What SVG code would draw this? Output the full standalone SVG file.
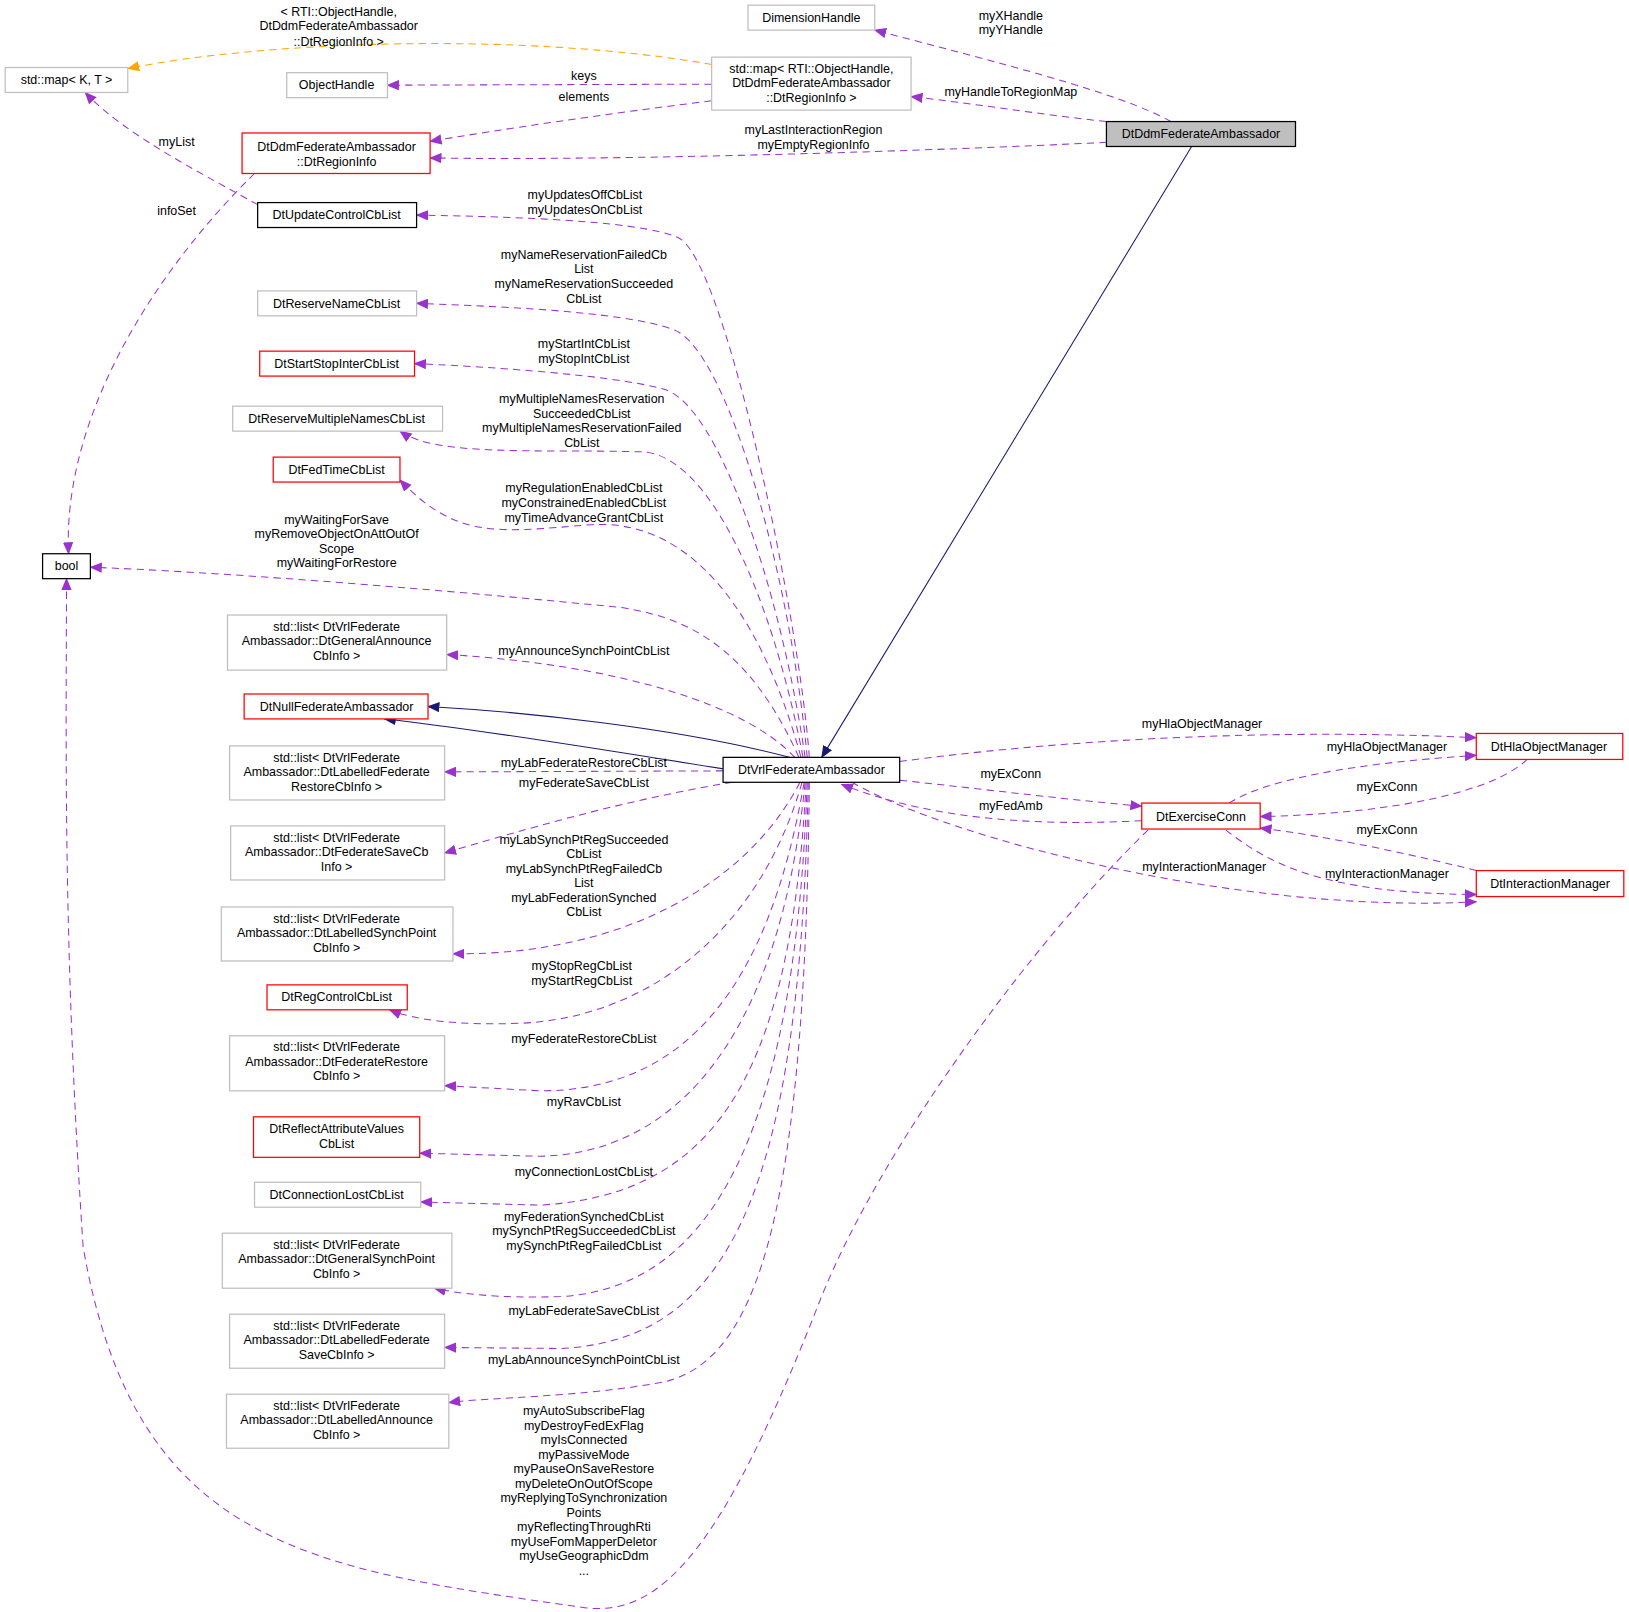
<svg xmlns="http://www.w3.org/2000/svg" width="1629" height="1612" viewBox="0 0 1629 1612">
<style>
text{font-family:"Liberation Sans",Arial,sans-serif;font-size:12px;fill:#000;text-anchor:middle}
.n rect{fill:#fff;stroke-width:1.2}
.g rect{stroke:#bfbfbf}.r rect{stroke:#ff0000}.k rect{stroke:#000}
.e{fill:none;stroke:#9a32cd;stroke-dasharray:7,5;marker-end:url(#ap)}
.i{fill:none;stroke:#191970;marker-end:url(#an)}
.o{fill:none;stroke:#ffa500;stroke-dasharray:7,5;marker-end:url(#ao)}
</style>
<defs>
<marker id="ap" markerWidth="12" markerHeight="10" refX="11" refY="5" orient="auto" markerUnits="userSpaceOnUse"><path d="M0,0L12,5L0,10z" fill="#9a32cd"/></marker>
<marker id="an" markerWidth="12" markerHeight="10" refX="11" refY="5" orient="auto" markerUnits="userSpaceOnUse"><path d="M0,0L12,5L0,10z" fill="#191970"/></marker>
<marker id="ao" markerWidth="12" markerHeight="10" refX="11" refY="5" orient="auto" markerUnits="userSpaceOnUse"><path d="M0,0L12,5L0,10z" fill="#ffa500"/></marker>
</defs>
<rect width="1629" height="1612" fill="#fff"/>
<g transform="scale(1.0389)">
<g id="edges">
<path class="i" d="M1147,141 L791,729"/>
<path class="e" d="M1127,117 C1080,90 960,60 842,29"/>
<path class="e" d="M1065,117 C1000,110 940,100 877,93"/>
<path class="e" d="M1065,137 C900,145 600,155 414,152"/>
<path class="o" d="M685,62 C500,30 250,40 123,66"/>
<path class="e" d="M685,81 L373,82"/>
<path class="e" d="M685,97 C580,110 480,125 414,136"/>
<path class="e" d="M248,197 C200,170 120,130 82,89"/>
<path class="e" d="M245,167 C150,260 60,400 66,533"/>
<path class="e" d="M779,729 C770,600 700,260 655,230 C620,210 450,208 401,207"/>
<path class="e" d="M777,729 C760,550 700,340 650,318 C600,298 450,294 401,292"/>
<path class="e" d="M775,729 C750,560 690,390 640,375 C590,360 450,352 399,350"/>
<path class="e" d="M773,729 C740,560 680,440 620,435 C520,432 420,440 385,415"/>
<path class="e" d="M771,729 C730,580 660,500 570,505 C480,512 440,520 385,462"/>
<path class="e" d="M769,729 C720,620 660,595 600,585 C400,565 200,550 87,546"/>
<path class="e" d="M765,729 C720,680 600,640 430,630"/>
<path class="i" d="M760,729 C650,700 500,685 412,680"/>
<path class="i" d="M696,740 C600,725 450,700 370,692"/>
<path class="e" d="M696,742 L428,743"/>
<path class="e" d="M705,753 C600,770 500,800 428,821"/>
<path class="e" d="M770,753 C720,850 600,920 436,918"/>
<path class="e" d="M772,753 C730,900 620,980 500,985 C440,987 400,982 375,972"/>
<path class="e" d="M774,753 C740,950 660,1050 520,1050 L428,1045"/>
<path class="e" d="M775,753 C750,1000 650,1110 520,1113 L404,1110"/>
<path class="e" d="M776,753 C760,1050 680,1150 520,1160 L405,1157"/>
<path class="e" d="M777,753 C765,1100 680,1240 540,1248 C480,1250 440,1245 418,1240"/>
<path class="e" d="M778,753 C770,1150 700,1290 540,1298 L428,1297"/>
<path class="e" d="M779,753 C775,1200 720,1310 640,1330 C560,1345 470,1345 432,1350"/>
<path class="e" d="M866,733 C1000,715 1200,700 1421,710"/>
<path class="e" d="M866,751 C950,760 1030,770 1099,776"/>
<path class="e" d="M1099,790 C1000,795 900,790 810,755"/>
<path class="e" d="M820,753 C920,810 1200,880 1421,868"/>
<path class="e" d="M1183,773 C1220,750 1300,735 1421,727"/>
<path class="e" d="M1470,731 C1440,760 1350,783 1213,786"/>
<path class="e" d="M1421,838 C1370,825 1280,805 1213,797"/>
<path class="e" d="M1180,799 C1220,830 1270,860 1421,861"/>
<path class="e" d="M1105,799 C1000,900 850,1100 790,1250 C700,1480 640,1560 560,1547 C300,1510 130,1490 80,1200 C60,900 64,700 64,557"/>
</g>
<g id="labels">
<text x="973" y="19">myXHandle</text><text x="973" y="33">myYHandle</text>
<text x="973" y="92">myHandleToRegionMap</text>
<text x="783" y="129">myLastInteractionRegion</text><text x="783" y="143">myEmptyRegionInfo</text>
<text x="326" y="15">&lt; RTI::ObjectHandle,</text><text x="326" y="29">DtDdmFederateAmbassador</text><text x="326" y="44">::DtRegionInfo &gt;</text>
<text x="562" y="77">keys</text><text x="562" y="97">elements</text>
<text x="170" y="141">myList</text><text x="170" y="207">infoSet</text>
<text x="563" y="192">myUpdatesOffCbList</text><text x="563" y="206">myUpdatesOnCbList</text>
<text x="562" y="249">myNameReservationFailedCb</text><text x="562" y="263">List</text><text x="562" y="277">myNameReservationSucceeded</text><text x="562" y="292">CbList</text>
<text x="562" y="335">myStartIntCbList</text><text x="562" y="349">myStopIntCbList</text>
<text x="560" y="388">myMultipleNamesReservation</text><text x="560" y="402">SucceededCbList</text><text x="560" y="416">myMultipleNamesReservationFailed</text><text x="560" y="430">CbList</text>
<text x="562" y="474">myRegulationEnabledCbList</text><text x="562" y="488">myConstrainedEnabledCbList</text><text x="562" y="502">myTimeAdvanceGrantCbList</text>
<text x="324" y="504">myWaitingForSave</text><text x="324" y="518">myRemoveObjectOnAttOutOf</text><text x="324" y="532">Scope</text><text x="324" y="546">myWaitingForRestore</text>
<text x="562" y="630">myAnnounceSynchPointCbList</text>
<text x="562" y="738">myLabFederateRestoreCbList</text>
<text x="562" y="758">myFederateSaveCbList</text>
<text x="562" y="812">myLabSynchPtRegSucceeded</text><text x="562" y="826">CbList</text><text x="562" y="840">myLabSynchPtRegFailedCb</text><text x="562" y="854">List</text><text x="562" y="868">myLabFederationSynched</text><text x="562" y="882">CbList</text>
<text x="560" y="934">myStopRegCbList</text><text x="560" y="948">myStartRegCbList</text>
<text x="562" y="1004">myFederateRestoreCbList</text>
<text x="562" y="1065">myRavCbList</text>
<text x="562" y="1132">myConnectionLostCbList</text>
<text x="562" y="1175">myFederationSynchedCbList</text><text x="562" y="1189">mySynchPtRegSucceededCbList</text><text x="562" y="1203">mySynchPtRegFailedCbList</text>
<text x="562" y="1266">myLabFederateSaveCbList</text>
<text x="562" y="1313">myLabAnnounceSynchPointCbList</text>
<text x="562" y="1362">myAutoSubscribeFlag</text><text x="562" y="1376">myDestroyFedExFlag</text><text x="562" y="1390">myIsConnected</text><text x="562" y="1404">myPassiveMode</text><text x="562" y="1418">myPauseOnSaveRestore</text><text x="562" y="1432">myDeleteOnOutOfScope</text><text x="562" y="1446">myReplyingToSynchronization</text><text x="562" y="1460">Points</text><text x="562" y="1474">myReflectingThroughRti</text><text x="562" y="1488">myUseFomMapperDeletor</text><text x="562" y="1502">myUseGeographicDdm</text><text x="562" y="1516">...</text>
<text x="1157" y="701">myHlaObjectManager</text>
<text x="973" y="749">myExConn</text><text x="973" y="780">myFedAmb</text>
<text x="1159" y="838">myInteractionManager</text>
<text x="1335" y="723">myHlaObjectManager</text>
<text x="1335" y="761">myExConn</text><text x="1335" y="803">myExConn</text>
<text x="1335" y="845">myInteractionManager</text>
</g>
<g id="DtDdmFederateAmbassador" class="n k"><rect x="1065" y="117" width="182" height="24" style="fill:#bfbfbf"/><text x="1156" y="133">DtDdmFederateAmbassador</text></g>
<g id="DimensionHandle" class="n g"><rect x="720" y="5" width="122" height="24"/><text x="781" y="21">DimensionHandle</text></g>
<g id="stdmapRTI" class="n g"><rect x="685" y="55" width="192" height="51"/><text x="781" y="70">std::map&lt; RTI::ObjectHandle,</text><text x="781" y="84">DtDdmFederateAmbassador</text><text x="781" y="98">::DtRegionInfo &gt;</text></g>
<g id="stdmapKT" class="n g"><rect x="5" y="65" width="118" height="24"/><text x="64" y="81">std::map&lt; K, T &gt;</text></g>
<g id="ObjectHandle" class="n g"><rect x="276" y="70" width="97" height="24"/><text x="324" y="86">ObjectHandle</text></g>
<g id="DtRegionInfo" class="n r"><rect x="233" y="128" width="181" height="39"/><text x="324" y="145">DtDdmFederateAmbassador</text><text x="324" y="160">::DtRegionInfo</text></g>
<g id="DtUpdateControlCbList" class="n k"><rect x="248" y="195" width="153" height="24"/><text x="324" y="211">DtUpdateControlCbList</text></g>
<g id="DtReserveNameCbList" class="n g"><rect x="248" y="280" width="153" height="24"/><text x="324" y="296">DtReserveNameCbList</text></g>
<g id="DtStartStopInterCbList" class="n r"><rect x="250" y="338" width="149" height="24"/><text x="324" y="354">DtStartStopInterCbList</text></g>
<g id="DtReserveMultipleNamesCbList" class="n g"><rect x="224" y="391" width="202" height="24"/><text x="324" y="407">DtReserveMultipleNamesCbList</text></g>
<g id="DtFedTimeCbList" class="n r"><rect x="263" y="440" width="122" height="24"/><text x="324" y="456">DtFedTimeCbList</text></g>
<g id="bool" class="n k"><rect x="41" y="533" width="46" height="24"/><text x="64" y="549">bool</text></g>
<g id="GeneralAnnounce" class="n g"><rect x="219" y="592" width="211" height="53"/><text x="324" y="607">std::list&lt; DtVrlFederate</text><text x="324" y="621">Ambassador::DtGeneralAnnounce</text><text x="324" y="635">CbInfo &gt;</text></g>
<g id="DtNullFederateAmbassador" class="n r"><rect x="235" y="668" width="177" height="24"/><text x="324" y="684">DtNullFederateAmbassador</text></g>
<g id="LabelledFederateRestore" class="n g"><rect x="221" y="718" width="207" height="52"/><text x="324" y="733">std::list&lt; DtVrlFederate</text><text x="324" y="747">Ambassador::DtLabelledFederate</text><text x="324" y="761">RestoreCbInfo &gt;</text></g>
<g id="FederateSaveCb" class="n g"><rect x="222" y="795" width="206" height="52"/><text x="324" y="810">std::list&lt; DtVrlFederate</text><text x="324" y="824">Ambassador::DtFederateSaveCb</text><text x="324" y="838">Info &gt;</text></g>
<g id="LabelledSynchPoint" class="n g"><rect x="213" y="873" width="223" height="52"/><text x="324" y="888">std::list&lt; DtVrlFederate</text><text x="324" y="902">Ambassador::DtLabelledSynchPoint</text><text x="324" y="916">CbInfo &gt;</text></g>
<g id="DtRegControlCbList" class="n r"><rect x="257" y="948" width="135" height="24"/><text x="324" y="964">DtRegControlCbList</text></g>
<g id="FederateRestore" class="n g"><rect x="221" y="997" width="207" height="53"/><text x="324" y="1012">std::list&lt; DtVrlFederate</text><text x="324" y="1026">Ambassador::DtFederateRestore</text><text x="324" y="1040">CbInfo &gt;</text></g>
<g id="DtReflectAttributeValuesCbList" class="n r"><rect x="244" y="1075" width="160" height="39"/><text x="324" y="1091">DtReflectAttributeValues</text><text x="324" y="1105">CbList</text></g>
<g id="DtConnectionLostCbList" class="n g"><rect x="245" y="1138" width="160" height="24"/><text x="324" y="1154">DtConnectionLostCbList</text></g>
<g id="GeneralSynchPoint" class="n g"><rect x="214" y="1187" width="221" height="53"/><text x="324" y="1202">std::list&lt; DtVrlFederate</text><text x="324" y="1216">Ambassador::DtGeneralSynchPoint</text><text x="324" y="1230">CbInfo &gt;</text></g>
<g id="LabelledFederateSave" class="n g"><rect x="221" y="1265" width="207" height="52"/><text x="324" y="1280">std::list&lt; DtVrlFederate</text><text x="324" y="1294">Ambassador::DtLabelledFederate</text><text x="324" y="1308">SaveCbInfo &gt;</text></g>
<g id="LabelledAnnounce" class="n g"><rect x="218" y="1342" width="214" height="52"/><text x="324" y="1357">std::list&lt; DtVrlFederate</text><text x="324" y="1371">Ambassador::DtLabelledAnnounce</text><text x="324" y="1385">CbInfo &gt;</text></g>
<g id="DtVrlFederateAmbassador" class="n k"><rect x="696" y="729" width="170" height="24"/><text x="781" y="745">DtVrlFederateAmbassador</text></g>
<g id="DtHlaObjectManager" class="n r"><rect x="1421" y="706" width="141" height="25"/><text x="1491" y="723">DtHlaObjectManager</text></g>
<g id="DtExerciseConn" class="n r"><rect x="1099" y="773" width="114" height="25"/><text x="1156" y="790">DtExerciseConn</text></g>
<g id="DtInteractionManager" class="n r"><rect x="1421" y="838" width="142" height="25"/><text x="1492" y="855">DtInteractionManager</text></g>
</g>
</svg>
